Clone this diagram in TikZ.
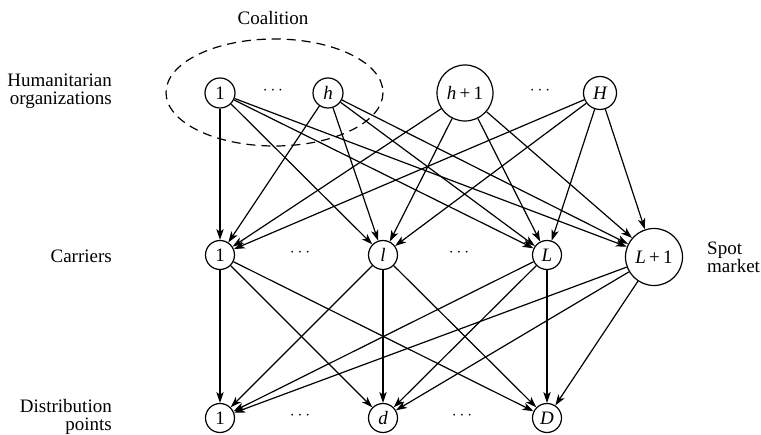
\documentclass[tikz,border=0pt]{standalone}
\usepackage{fontspec}
\setmainfont{Liberation Serif}
\usetikzlibrary{arrows.meta}
\begin{document}
\begin{tikzpicture}[x=1pt,y=-1pt,
  every node/.style={font=\fontsize{19}{22}\selectfont},
  vtx/.style={draw,circle,line width=1.2pt,inner sep=0pt,minimum size=#1},
  vtx/.default=30pt,
  link/.style={line width=1.2pt,-{Stealth[length=11pt,width=7.5pt,inset=3pt]}},
  lbl/.style={align=right,anchor=east,inner sep=0pt}]
\useasboundingbox (0,0) rectangle (761,435);

% humanitarian organizations
\node[vtx] (h1) at (220,93) {1};
\node[vtx] (hh) at (328,93) {\itshape h};
\node[vtx=56pt] (hh1) at (465,93) {{\itshape h}\,+\,1};
\node[vtx=33pt] (hH) at (600,93) {\itshape H};
\node (td1) at (273,91) {$\cdots$};
\node (td2) at (540,91) {$\cdots$};

% coalition
\draw[line width=1.2pt,dash pattern=on 9pt off 6pt] (274.5,92.5) ellipse [x radius=108.5,y radius=53.5];
\node (coal) at (273,18) {Coalition};

% carriers
\node[vtx=29pt] (c1) at (220,255) {1};
\node[vtx=29pt] (cl) at (383,255) {\itshape l};
\node[vtx=29pt] (cL) at (547,255) {\itshape L};
\node[vtx=57pt] (cS) at (654,257) {{\itshape L}\,+\,1};
\node (md1) at (300,253) {$\cdots$};
\node (md2) at (459,253) {$\cdots$};

% distribution points
\node[vtx=29pt] (d1) at (220,418) {1};
\node[vtx=29pt] (dd) at (383,418) {\itshape d};
\node[vtx=29pt] (dD) at (547,418) {\itshape D};
\node (bd1) at (300,416) {$\cdots$};
\node (bd2) at (462,416) {$\cdots$};

% row labels
\node[lbl] (lh) at (112,91) {Humanitarian\\[-4pt]organizations};
\node[lbl] (lc) at (112,256) {Carriers};
\node[lbl] (ld) at (112,417) {Distribution\\[-4pt]points};
\node[align=left,anchor=west,inner sep=0pt] (ls) at (707,257) {Spot\\[-4pt]market};

% organizations to carriers
\foreach \s in {h1,hh,hh1,hH}
  \foreach \t in {c1,cl,cL,cS}
    \draw[link] (\s) -- (\t);

% carriers to distribution points
\foreach \s in {c1,cl,cL,cS}
  \foreach \t in {d1,dd,dD}
    \draw[link] (\s) -- (\t);
\end{tikzpicture}
\end{document}
